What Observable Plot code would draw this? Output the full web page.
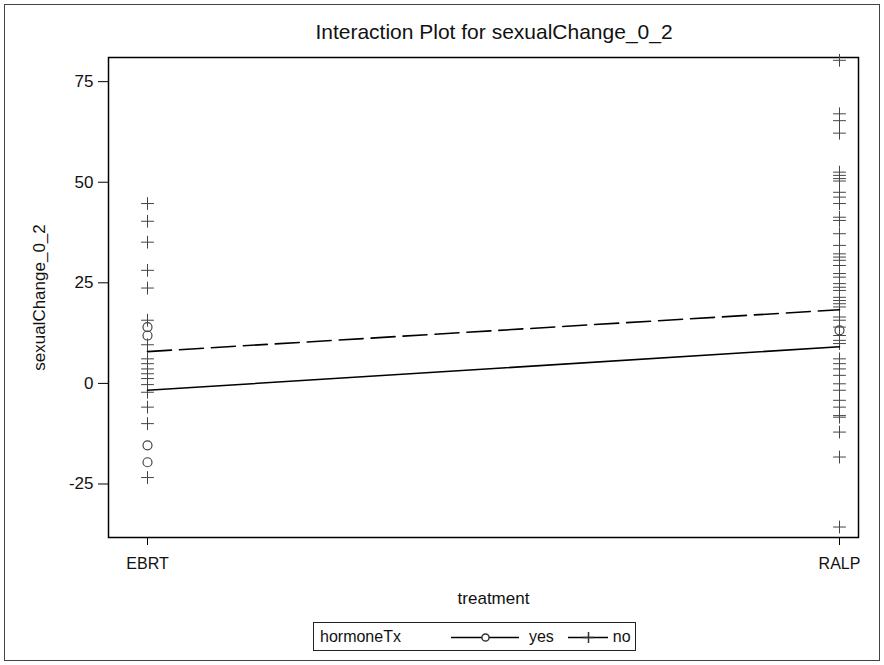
<!DOCTYPE html>
<html>
<head>
<meta charset="utf-8">
<script src="https://cdn.jsdelivr.net/npm/d3@7"></script>
<script src="https://cdn.jsdelivr.net/npm/@observablehq/plot@0.6"></script>
<style>
  body { margin: 0; background: #fff; font-family: "Liberation Sans", Arial, sans-serif; }
  #outer { position: absolute; left: 4px; top: 4px; width: 874px; height: 655px; border: 1px solid #444; }
  #title { position: absolute; left: 294px; width: 400px; top: 20px; text-align: center; font-size: 21px; color: #111; white-space: nowrap; }
  #chart { position: absolute; left: 0; top: 0; }
  #chart svg text { font-family: "Liberation Sans", Arial, sans-serif; fill: #111; }
  #legend { position: absolute; left: 313px; top: 622px; height: 27px; border: 1px solid #222; display: flex; align-items: center; font-size: 16px; color: #111; padding: 0 4px 0 6px; white-space: nowrap; }
  #legend svg { display: block; }
  .item { display: flex; align-items: center; }
</style>
</head>
<body>
<div id="outer"></div>
<div id="title">Interaction Plot for sexualChange_0_2</div>
<div id="chart"></div>
<div id="legend"></div>
<script>
// ---- data ----
const treatments = ["EBRT", "RALP"];
const yTicks = [-25, 0, 25, 50, 75];
const groups = ["yes", "no"];

// observed values, hormoneTx = no (plus markers)
const ebrtNo = [44.7, 40.3, 35.1, 28.1, 23.7, 15.7, 9.6, 6.1, 4.9, 3.6, 2.4, 1.2, -0.3, -2.2, -5.9, -10.0, -23.4];
const ralpNo = [80.3, 67.0, 65.3, 62.2, 52.5, 51.7, 50.9, 50.3, 47.5, 46.3, 44.7, 41.3, 40.5, 37.2, 34.3,
  32.2, 31.4, 30.6, 29.3, 27.3, 26.4, 24.8, 23.9, 23.1, 21.4, 20.6, 19.8, 19.0, 16.5, 15.7, 14.0,
  11.9, 10.7, 9.9, 6.1, 4.9, 3.6, 2.0, -0.1, -1.7, -4.2, -5.9, -8.0, -8.4, -12.1, -18.3, -35.7];
// observed values, hormoneTx = yes (circle markers)
const ebrtYes = [14.0, 11.9, -15.4, -19.6];
const ralpYes = [13.2];

// fitted interaction lines at EBRT, RALP
const fitNo = [7.9, 18.3];
const fitYes = [-1.7, 9.1];

// ---- build tables ----
const pointsNo = [
  ...ebrtNo.map(v => ({treatment: treatments[0], value: v})),
  ...ralpNo.map(v => ({treatment: treatments[1], value: v}))
];
const pointsYes = [
  ...ebrtYes.map(v => ({treatment: treatments[0], value: v})),
  ...ralpYes.map(v => ({treatment: treatments[1], value: v}))
];
const lineNo = treatments.map((t, i) => ({treatment: t, value: fitNo[i]}));
const lineYes = treatments.map((t, i) => ({treatment: t, value: fitYes[i]}));

const W = 884, H = 620;
const chart = Plot.plot({
  width: W,
  height: H,
  marginLeft: 108,
  marginRight: 26,
  marginTop: 57,
  marginBottom: 83,
  style: {fontSize: "16px", background: "transparent"},
  x: {type: "point", domain: treatments, range: [147, 839], padding: 0},
  y: {domain: [-38.3, 81]},
  marks: [
    Plot.frame({stroke: "#000", strokeWidth: 1.5}),
    Plot.axisY({ticks: yTicks, tickFormat: d => String(d), tickSize: 10, tickPadding: 5, label: "sexualChange_0_2", labelAnchor: "center", labelOffset: 76, labelArrow: "none", fontSize: 17}),
    Plot.axisX({tickSize: 8, tickPadding: 12, label: null, fontSize: 16}),
    Plot.text(["treatment"], {frameAnchor: "bottom", dx: 10, dy: 61, fontSize: 17, lineAnchor: "middle"}),
    Plot.dot(pointsNo, {x: "treatment", y: "value", symbol: "plus", r: 4.2, stroke: "#444", strokeWidth: 1}),
    Plot.dot(pointsYes, {x: "treatment", y: "value", symbol: "circle", r: 4.5, fill: "none", stroke: "#444", strokeWidth: 1.2}),
    Plot.line(lineNo, {x: "treatment", y: "value", stroke: "#000", strokeWidth: 1.6, strokeDasharray: "24,8"}),
    Plot.line(lineYes, {x: "treatment", y: "value", stroke: "#000", strokeWidth: 1.6})
  ]
});
document.getElementById("chart").appendChild(chart);

// ---- legend ----
const legend = document.getElementById("legend");
const lab = document.createElement("span");
lab.textContent = "hormoneTx";
lab.style.marginRight = "50px";
legend.appendChild(lab);
const symbols = {yes: "circle", no: "plus"};
const swatchW = {yes: 68, no: 40};
groups.forEach((g, i) => {
  const item = document.createElement("span");
  item.className = "item";
  const sw = Plot.plot({
    width: swatchW[g], height: 20, margin: 0,
    x: {domain: [0, 1]}, y: {domain: [0, 1]}, axis: null,
    style: {background: "transparent"},
    marks: [
      Plot.ruleY([0.5], {stroke: "#000", strokeWidth: 1.4}),
      Plot.dot([{x: 0.5, y: 0.5}], {x: "x", y: "y", symbol: symbols[g], r: symbols[g] === "circle" ? 3.6 : 3.6, fill: symbols[g] === "circle" ? "#fff" : "none", stroke: "#333"})
    ]
  });
  item.appendChild(sw);
  const t = document.createElement("span");
  t.textContent = g;
  t.style.marginLeft = i === 0 ? "10px" : "5px";
  t.style.marginRight = i === 0 ? "14px" : "0";
  item.appendChild(t);
  legend.appendChild(item);
});
</script>
</body>
</html>
